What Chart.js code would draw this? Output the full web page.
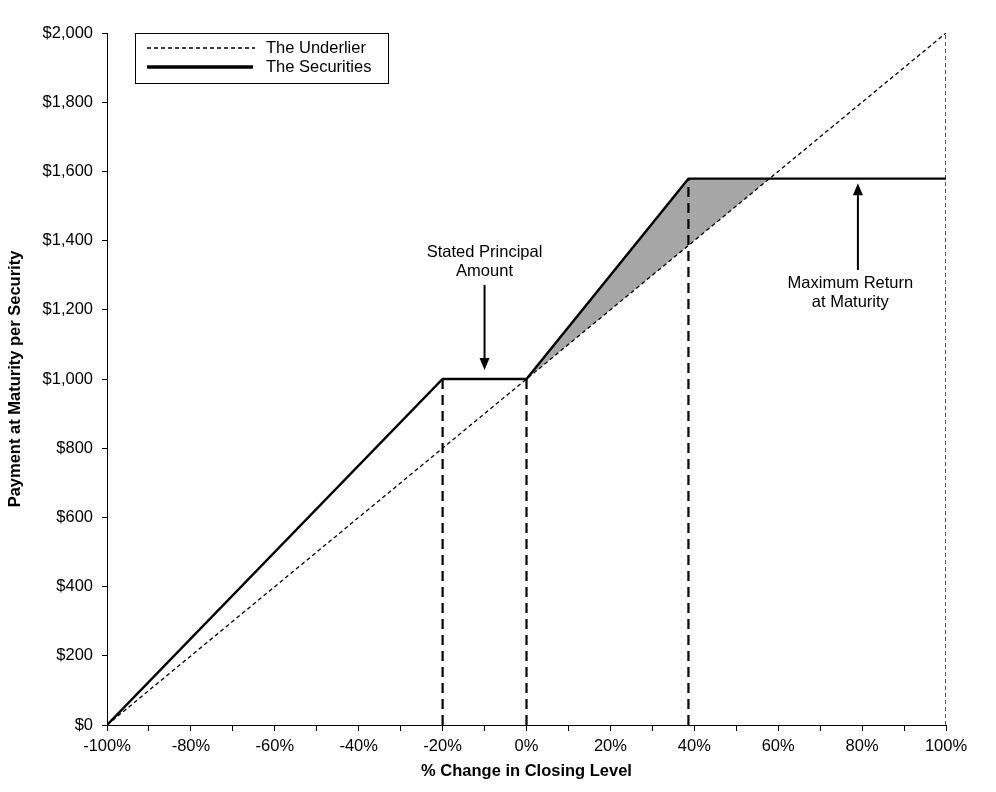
<!DOCTYPE html>
<html>
<head>
<meta charset="utf-8">
<script src="https://cdn.jsdelivr.net/npm/chart.js@4.4.1/dist/chart.umd.min.js"></script>
<style>
  html, body { margin: 0; padding: 0; background: #fff; }
  #wrap { width: 996px; height: 792px; }
</style>
</head>
<body>
<div id="wrap"><canvas id="c" width="996" height="792"></canvas></div>
<script>
// ---- Data ----
const underlierX = [-100, 100];
const underlierY = [0, 2000];

const securitiesX = [-100, -20, 0, 38.6, 100];
const securitiesY = [0, 1000, 1000, 1579, 1579];

// shaded region between the securities and the underlier
const shadeX = [0, 38.6, 57.9, 0];
const shadeY = [1000, 1579, 1579, 1000];

// vertical guide lines (thick dashed)
const markerX = [-20, 0, 38.6];
const markerTop = [1000, 1000, 1579];

// thin dashed line at end of underlier
const endX = [100, 100];
const endY = [0, 2000];

// annotation arrows
const arrowX = [-10, 79];
const arrowFrom = [1272, 1315];
const arrowTo = [1026, 1566];
const arrowLabels = [["Stated Principal", "Amount"], ["Maximum Return", "at Maturity"]];
const labelX = [-10, 77.2];
const labelY = [1367, 1275];

const legendLabels = ["The Underlier", "The Securities"];

const xTitle = "% Change in Closing Level";
const yTitle = "Payment at Maturity per Security";

const FONT = "'Liberation Sans', Arial, sans-serif";

function pts(xs, ys) { return xs.map((x, i) => ({ x: x, y: ys[i] })); }

const datasets = [];
markerX.forEach((mx, i) => {
  datasets.push({
    data: pts([mx, mx], [0, markerTop[i]]),
    borderColor: '#000', borderWidth: 2.2, borderDash: [10, 6],
    pointRadius: 0, fill: false
  });
});
datasets.push({
  data: pts(endX, endY),
  borderColor: '#000', borderWidth: 1.3, borderDash: [4, 3],
  pointRadius: 0, fill: false
});
datasets.push({
  label: legendLabels[1],
  data: pts(securitiesX, securitiesY),
  borderColor: '#000', borderWidth: 2.4,
  pointRadius: 0, fill: false
});
datasets.push({
  label: legendLabels[0],
  data: pts(underlierX, underlierY),
  borderColor: '#000', borderWidth: 1.3, borderDash: [4, 3],
  pointRadius: 0, fill: false
});
datasets.push({
  data: pts(shadeX, shadeY),
  borderColor: 'rgba(0,0,0,0)', borderWidth: 0,
  backgroundColor: '#a6a6a6',
  pointRadius: 0, fill: 'shape'
});

const annotPlugin = {
  id: 'annot',
  afterDatasetsDraw(chart) {
    const ctx = chart.ctx;
    const xs = chart.scales.x, ys = chart.scales.y;
    ctx.save();
    arrowX.forEach((ax, i) => {
      const px = xs.getPixelForValue(ax);
      const y0 = ys.getPixelForValue(arrowFrom[i]);
      const y1 = ys.getPixelForValue(arrowTo[i]);
      const dir = y1 > y0 ? 1 : -1;
      const head = 12;
      ctx.strokeStyle = '#000';
      ctx.lineWidth = 2;
      ctx.setLineDash([]);
      ctx.beginPath();
      ctx.moveTo(px, y0);
      ctx.lineTo(px, y1 - dir * head);
      ctx.stroke();
      ctx.fillStyle = '#000';
      ctx.beginPath();
      ctx.moveTo(px, y1);
      ctx.lineTo(px - 5, y1 - dir * head);
      ctx.lineTo(px + 5, y1 - dir * head);
      ctx.closePath();
      ctx.fill();
    });
    ctx.font = "16.5px " + FONT;
    ctx.fillStyle = '#000';
    ctx.textAlign = 'center';
    ctx.textBaseline = 'middle';
    arrowLabels.forEach((lines, i) => {
      const px = xs.getPixelForValue(labelX[i]);
      const py = ys.getPixelForValue(labelY[i]);
      lines.forEach((t, j) => ctx.fillText(t, px, py + j * 19));
    });
    const ca = chart.chartArea;
    const bx = ca.left + 28, by = ca.top, bw = 253, bh = 50;
    ctx.fillStyle = '#fff';
    ctx.fillRect(bx, by, bw, bh);
    ctx.strokeStyle = '#000';
    ctx.lineWidth = 1;
    ctx.strokeRect(bx + 0.5, by + 0.5, bw, bh);
    ctx.beginPath();
    ctx.setLineDash([4, 3]);
    ctx.lineWidth = 1.6;
    ctx.moveTo(bx + 12, by + 15);
    ctx.lineTo(bx + 120, by + 15);
    ctx.stroke();
    ctx.setLineDash([]);
    ctx.lineWidth = 3.5;
    ctx.beginPath();
    ctx.moveTo(bx + 12, by + 34);
    ctx.lineTo(bx + 118, by + 34);
    ctx.stroke();
    ctx.fillStyle = '#000';
    ctx.textAlign = 'left';
    ctx.fillText(legendLabels[0], bx + 131, by + 15);
    ctx.fillText(legendLabels[1], bx + 131, by + 34);
    ctx.restore();
  }
};

new Chart(document.getElementById('c'), {
  type: 'line',
  data: { datasets: datasets },
  plugins: [annotPlugin],
  options: {
    responsive: false,
    animation: false,
    devicePixelRatio: 1,
    layout: { padding: { left: 0, top: 33, right: 50, bottom: 0 } },
    plugins: { legend: { display: false }, tooltip: { enabled: false } },
    elements: { line: { tension: 0 } },
    scales: {
      x: {
        type: 'linear', min: -100, max: 100,
        afterFit(s) { s.height = 67; },
        ticks: {
          stepSize: 10, autoSkip: false, maxRotation: 0, color: '#000', padding: 6,
          font: { family: FONT, size: 16.5 },
          callback: v => (v % 20 === 0 ? v + '%' : '')
        },
        grid: { drawOnChartArea: false, drawTicks: true, tickLength: 6, color: '#000', tickColor: '#000' },
        border: { display: true, color: '#000', width: 1 },
        title: {
          display: true, text: xTitle, color: '#000',
          font: { family: FONT, size: 16.5, weight: 'bold' },
          padding: { top: 0, bottom: 11 }
        }
      },
      y: {
        type: 'linear', min: 0, max: 2000,
        afterFit(s) { s.width = 107; },
        ticks: {
          stepSize: 200, color: '#000', padding: 9,
          font: { family: FONT, size: 16.5 },
          callback: v => '$' + Number(v).toLocaleString('en-US')
        },
        grid: { drawOnChartArea: false, drawTicks: true, tickLength: 5, color: '#000', tickColor: '#000' },
        border: { display: true, color: '#000', width: 1 },
        title: {
          display: true, text: yTitle, color: '#000',
          font: { family: FONT, size: 16.5, weight: 'bold' },
          padding: { top: 6, bottom: 0 }
        }
      }
    }
  }
});
</script>
</body>
</html>
